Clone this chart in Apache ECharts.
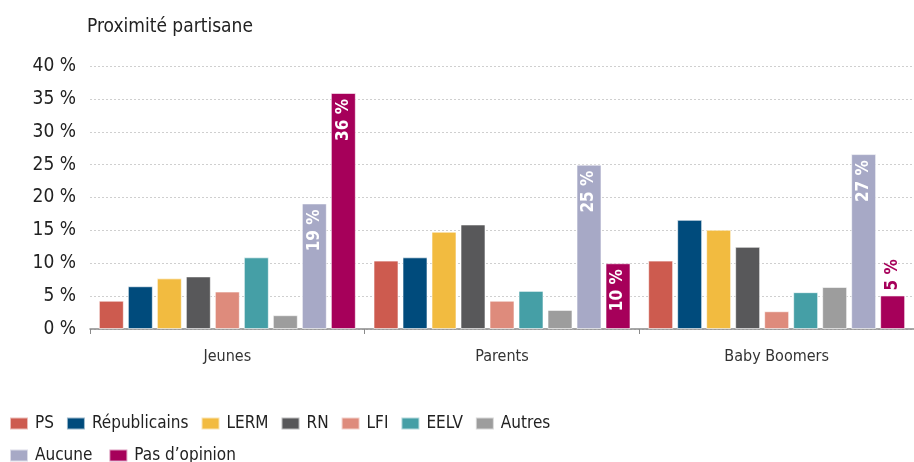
<!DOCTYPE html>
<html>
<head>
<meta charset="utf-8">
<script src="https://cdn.jsdelivr.net/npm/echarts@6/dist/echarts.min.js"></script>
<style>
html, body { margin: 0; padding: 0; background: #fff; }
#chart { width: 914px; height: 462px; }
</style>
</head>
<body>
<div id="chart"></div>
<script>
var categories = ['Jeunes', 'Parents', 'Baby Boomers']
var partis = ['PS', 'Républicains', 'LERM', 'RN', 'LFI', 'EELV', 'Autres', 'Aucune', 'Pas d\u2019opinion']
var colors = ['#cd5b4f', '#004b7c', '#f2bb40', '#58585a', '#de8b7c', '#459fa6', '#9d9d9d', '#a7a9c6', '#a6005a']

// valeurs en % par groupe (Jeunes, Parents, Baby Boomers)
var ps = [4.3, 10.4, 10.4]
var republicains = [6.5, 10.9, 16.6]
var lerm = [7.7, 14.8, 15.1]
var rn = [8.0, 15.9, 12.5]
var lfi = [5.7, 4.3, 2.7]
var eelv = [10.9, 5.8, 5.6]
var autres = [2.1, 2.9, 6.4]
var aucune = [19.1, 25.0, 26.6]
var pasOpinion = [35.9, 10.0, 5.1]

var yTicks = [0, 5, 10, 15, 20, 25, 30, 35, 40]

var values = [ps, republicains, lerm, rn, lfi, eelv, autres, aucune, pasOpinion]
var font = "'DejaVu Sans Condensed', 'Liberation Sans', sans-serif"

var insideLabel = {
  show: true,
  position: 'insideTop',
  rotate: 90,
  align: 'right',
  verticalAlign: 'middle',
  distance: 6,
  color: '#fff',
  fontFamily: font,
  fontWeight: 'bold',
  fontSize: 17,
  formatter: function (p) { return Math.round(p.value) + ' %' }
}

var series = partis.map(function (name, i) {
  var s = {
    name: name,
    type: 'bar',
    barWidth: 25,
    barGap: '16%',
    itemStyle: { color: colors[i], borderColor: 'rgba(255,255,255,0.6)', borderWidth: 1 },
    data: values[i].slice()
  }
  if (i >= 7) {
    s.label = insideLabel
  }
  if (i === 8) {
    // petite barre : étiquette au-dessus
    s.data[2] = {
      value: values[i][2],
      label: {
        position: 'top',
        align: 'left',
        distance: 5,
        color: colors[i]
      }
    }
  }
  return s
})

var myChart = echarts.init(document.getElementById('chart'))
myChart.setOption({
  animation: false,
  color: colors,
  title: {
    text: 'Proximité partisane',
    left: 82,
    top: 13,
    textStyle: { fontFamily: font, fontSize: 19, fontWeight: 'normal', color: '#222' }
  },
  grid: { left: 90, right: -8, top: 66, bottom: 133, containLabel: false },
  legend: [
    {
      data: partis.slice(0, 7),
      left: 4,
      top: 410,
      icon: 'rect',
      itemWidth: 18,
      itemHeight: 12,
      itemGap: 12,
      textStyle: { fontFamily: font, fontSize: 17, color: '#222', padding: [0, 0, 0, 2] }
    },
    {
      data: partis.slice(7),
      left: 4,
      top: 442,
      icon: 'rect',
      itemWidth: 18,
      itemHeight: 12,
      itemGap: 16,
      textStyle: { fontFamily: font, fontSize: 17, color: '#222', padding: [0, 0, 0, 2] }
    }
  ],
  xAxis: {
    type: 'category',
    data: categories,
    axisLine: { lineStyle: { color: '#8a8a8a', width: 1.5 } },
    axisTick: { show: true, length: 5, lineStyle: { color: '#8a8a8a' } },
    axisLabel: { fontFamily: font, fontSize: 16, color: '#333', margin: 20 }
  },
  yAxis: {
    type: 'value',
    min: yTicks[0],
    max: yTicks[yTicks.length - 1],
    interval: 5,
    axisLine: { show: false },
    axisTick: { show: false },
    axisLabel: {
      fontFamily: font,
      fontSize: 19,
      color: '#222',
      margin: 14,
      formatter: function (v) { return v + ' %' }
    },
    splitLine: { lineStyle: { color: '#cfcfcf', type: [2, 2] } }
  },
  series: series
})
</script>
</body>
</html>
